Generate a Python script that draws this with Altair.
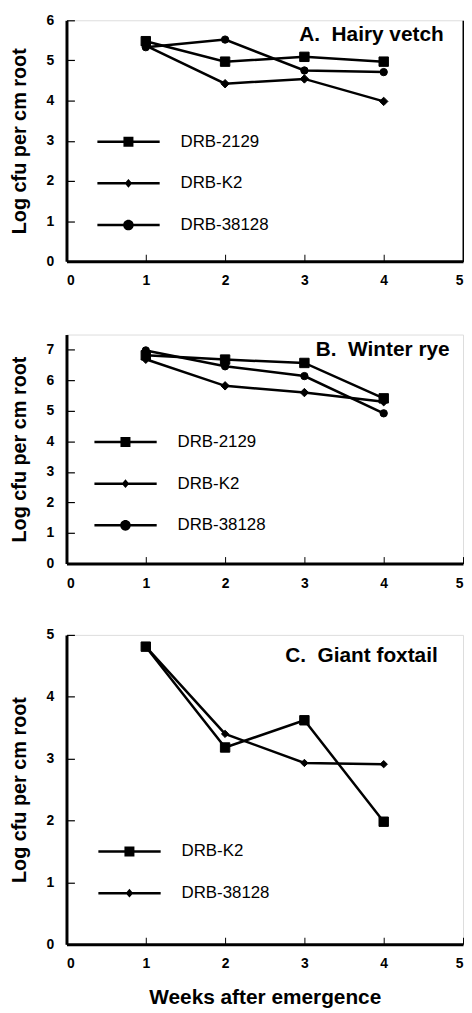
import altair as alt
import pandas as pd

FONT = "Liberation Sans"

# ---------------- data ----------------
weeks = [1, 2, 3, 4]

# A. Hairy vetch
hv_names = ["DRB-2129", "DRB-K2", "DRB-38128"]
hv_2129 = [5.48, 4.97, 5.09, 4.97]
hv_k2 = [5.37, 4.42, 4.54, 3.98]
hv_38128 = [5.33, 5.52, 4.75, 4.71]

# B. Winter rye
wr_names = ["DRB-2129", "DRB-K2", "DRB-38128"]
wr_2129 = [6.82, 6.68, 6.57, 5.41]
wr_k2 = [6.69, 5.82, 5.60, 5.30]
wr_38128 = [6.98, 6.46, 6.14, 4.92]

# C. Giant foxtail
gf_names = ["DRB-K2", "DRB-38128"]
gf_k2 = [4.81, 3.18, 3.62, 1.98]
gf_38128 = [4.81, 3.40, 2.93, 2.91]

x_ticks = [0, 1, 2, 3, 4, 5]


def make_df(names, series):
    rows = []
    for name, vals in zip(names, series):
        for w, v in zip(weeks, vals):
            rows.append({"week": w, "value": v, "strain": name})
    return pd.DataFrame(rows)


# legend symbols: a thick line segment with the marker on it (all filled, clockwise)
SEG = "M-1,-0.04H1V0.04H-1Z"
LEG_PATH = {
    "square": SEG + "M-0.16,-0.16H0.16V0.16H-0.16Z",
    "diamond": SEG + "M0,-0.14L0.12,0L0,0.14L-0.12,0Z",
    "circle": SEG + "M-0.17,0A0.17,0.17,0,1,1,0.17,0A0.17,0.17,0,1,1,-0.17,0Z",
}
MARK_SIZE = {"square": 90, "diamond": 55, "circle": 95}

W = 400


def panel(df, names, shapes, ymax, yvals, height, title, leg_x, leg_y,
          title_dx, title_off, xtitle=None, border=False):
    xs = alt.Scale(domain=[0, 5], nice=False)
    ys = alt.Scale(domain=[0, ymax], nice=False)

    main_x = alt.Axis(values=x_ticks, ticks=False, grid=False, domainWidth=3,
                      domainColor="black", labelFontSize=14, labelFontWeight="bold",
                      labelColor="black", labelPadding=13, labelFont=FONT,
                      title=xtitle, titleFontSize=21, titleFontWeight="bold",
                      titleFont=FONT, titleColor="black", titlePadding=16)
    main_y = alt.Axis(values=yvals, ticks=False, grid=False, domainWidth=3,
                      domainColor="black", labelFontSize=14, labelFontWeight="bold",
                      labelColor="black", labelPadding=13, labelFont=FONT,
                      title="Log cfu per cm root", titleFontSize=20,
                      titleFontWeight="bold", titleFont=FONT, titleColor="black",
                      titlePadding=17)
    tick_x = alt.Axis(orient="top", offset=-height, values=x_ticks, labels=False,
                      domain=False, grid=False, ticks=True, tickSize=7,
                      tickWidth=1, tickColor="black", title=None)
    tick_y = alt.Axis(orient="right", offset=-W, values=yvals, labels=False,
                      domain=False, grid=False, ticks=True, tickSize=8,
                      tickWidth=1.2, tickColor="black", title=None)

    base = alt.Chart(df)
    line = base.mark_line(color="black", strokeWidth=2.5).encode(
        x=alt.X("week:Q", scale=xs, axis=main_x),
        y=alt.Y("value:Q", scale=ys, axis=main_y),
        detail="strain:N",
    )
    pts = base.mark_point(filled=True, color="black", opacity=1,
                          stroke="black", strokeWidth=1).encode(
        x=alt.X("week:Q", scale=xs, axis=tick_x),
        y=alt.Y("value:Q", scale=ys, axis=tick_y),
        shape=alt.Shape("strain:N", scale=alt.Scale(domain=names, range=shapes),
                        legend=None),
        size=alt.Size("strain:N",
                      scale=alt.Scale(domain=names,
                                      range=[MARK_SIZE[s] for s in shapes]),
                      legend=None),
    )
    if border:
        leg_yaxis = alt.Axis(orient="right", labels=False, ticks=False, grid=False,
                             domain=True, domainWidth=2, domainColor="black",
                             title=None)
    else:
        leg_yaxis = None
    leg = base.mark_point(filled=True, color="black", opacity=0).encode(
        x=alt.X("week:Q", scale=xs, axis=None),
        y=alt.Y("value:Q", scale=ys, axis=leg_yaxis),
        shape=alt.Shape(
            "strain:N",
            scale=alt.Scale(domain=names, range=[LEG_PATH[s] for s in shapes]),
            legend=alt.Legend(
                orient="none", legendX=leg_x, legendY=leg_y, direction="vertical",
                title=None, padding=0, labelFont=FONT, labelFontSize=17,
                labelColor="black", labelOffset=21, symbolSize=3969,
                symbolStrokeWidth=0, symbolFillColor="black", symbolOpacity=1,
                rowPadding=24, clipHeight=15, symbolOffset=0,
            ),
        ),
    )
    return alt.layer(line, pts, leg).resolve_scale(
        shape="independent", size="independent"
    ).resolve_axis(x="independent", y="independent").properties(
        width=W, height=height,
        title=alt.TitleParams(title, anchor="end", orient="top", fontSize=21,
                              fontWeight="bold", font=FONT, color="black",
                              offset=title_off, dx=title_dx),
    )


pA = panel(make_df(hv_names, [hv_2129, hv_k2, hv_38128]), hv_names,
           ["square", "diamond", "circle"], 6, [0, 1, 2, 3, 4, 5, 6], 243,
           "A.\u00a0 Hairy vetch", 31, 115, -20, -32, border=True)
pB = panel(make_df(wr_names, [wr_2129, wr_k2, wr_38128]), wr_names,
           ["square", "diamond", "circle"], 7.5, [0, 1, 2, 3, 4, 5, 6, 7], 231,
           "B.\u00a0 Winter rye", 28, 101, -14, -26)
pC = panel(make_df(gf_names, [gf_k2, gf_38128]), gf_names,
           ["square", "diamond"], 5, [0, 1, 2, 3, 4, 5], 312,
           "C.\u00a0 Giant foxtail", 32, 211, -26, -38,
           xtitle="Weeks after emergence")

chart = alt.vconcat(pA, alt.vconcat(pB, pC, spacing=36), spacing=45).properties(
    padding={"left": 0, "top": 0, "right": 0, "bottom": 0}
).configure_view(strokeWidth=0).configure(background="white")

chart.save("out.html", embed_options={"renderer": "svg", "actions": False})
